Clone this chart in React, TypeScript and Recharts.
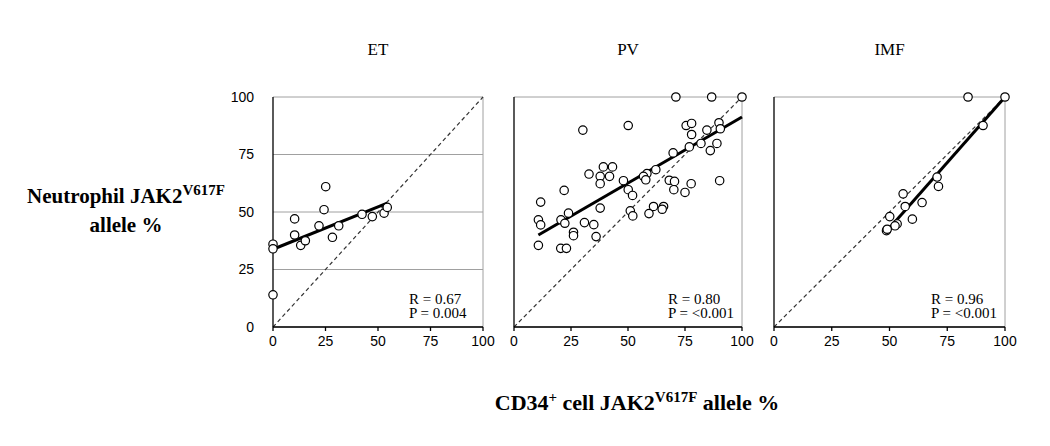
import React from 'react';
import { ScatterChart, Scatter, XAxis, YAxis, CartesianGrid, ReferenceLine } from 'recharts';

// values (CD34+ % vs neutrophil %)
const etCd34 = [0, 0, 0, 10.3, 10.3, 13.2, 15.4, 21.9, 24.3, 25.1, 28.3, 31.3, 42.4, 47.3, 52.9, 54.4];
const etNeut = [36, 34, 14, 47, 40, 35.5, 37.5, 44, 51, 61, 39, 44, 49, 48, 49.5, 52];

const pvCd34 = [71, 86.7, 100, 30.2, 50.1, 75.5, 77.9, 77.9, 84.6, 89.9, 90.5, 82, 86.1, 89, 76.9, 69.8, 90.2, 77.7, 75, 68.1,
  70.4, 70.1, 62.2, 58.3, 56.8, 57.8, 48, 50.1, 52, 39.2, 43.2, 37.8, 41.9, 37.8, 32.9, 22, 11.7, 37.8, 61.2, 65.6,
  65, 51, 52.1, 59.2, 23.9, 20.6, 22.3, 10.7, 11.7, 30.9, 35, 26.1, 26.1, 36, 10.7, 20.5, 23];
const pvNeut = [100, 100, 100, 85.6, 87.6, 87.6, 88.5, 83.7, 85.6, 88.8, 86.2, 79.8, 76.7, 79.8, 78.3, 75.7, 63.6, 62.3, 58.5, 63.8,
  63.3, 59.7, 68.4, 66.7, 65.5, 64, 63.6, 59.7, 57.2, 69.6, 69.6, 65.5, 65.5, 62.3, 66.5, 59.4, 54.3, 51.7, 52.4, 52.4,
  51.2, 50.5, 48.3, 49.3, 49.5, 46.6, 45.1, 46.6, 44.4, 45.4, 44.5, 41.2, 39.7, 39.3, 35.5, 34.2, 34.2];

const imfCd34 = [84, 100, 90.5, 70.6, 71.2, 55.9, 64.1, 56.8, 50.1, 59.9, 53.3, 52.4, 48.7, 49];
const imfNeut = [100, 100, 87.6, 65.2, 61.1, 57.9, 54.1, 52.4, 48, 46.9, 44.8, 44, 41.9, 42.5];

// regression line end points
const etFitX = [0, 54.4];
const etFitY = [33.8, 53.9];
const pvFitX = [10.7, 100];
const pvFitY = [40.0, 91.3];
const imfFitX = [48.7, 100];
const imfFitY = [41.5, 100];

const ticks = [0, 25, 50, 75, 100];

const serif = '"Liberation Serif", "Times New Roman", serif';
const sans = '"Liberation Sans", Arial, sans-serif';
const gridGray = '#a0a0a0';
const axisW = 55;

const toPoints = (xs: number[], ys: number[]) => xs.map((x, i) => ({ x, y: ys[i] }));

const Ring = (props: any) => (
  <circle cx={props.cx} cy={props.cy} r={4.2} fill="#fff" stroke="#000" strokeWidth={1.2} />
);

interface PanelProps {
  title: string;
  xs: number[];
  ys: number[];
  fitX: number[];
  fitY: number[];
  r: string;
  p: string;
  plotLeft: number;
  plotWidth: number;
  showYTicks: boolean;
}

const Panel = ({ title, xs, ys, fitX, fitY, r, p, plotLeft, plotWidth, showYTicks }: PanelProps) => {
  const left = plotLeft - axisW;
  return (
    <>
      <div style={{ position: 'absolute', left: plotLeft, width: plotWidth, top: 40, textAlign: 'center', fontFamily: serif, fontSize: 17 }}>
        {title}
      </div>
      <div style={{ position: 'absolute', left, top: 60 }}>
        <ScatterChart width={plotWidth + axisW + 20} height={330} margin={{ top: 37, right: 20, bottom: 33, left: 0 }}>
          <CartesianGrid vertical={false} stroke={gridGray} />
          <XAxis
            type="number"
            dataKey="x"
            domain={[0, 100]}
            ticks={ticks}
            height={30}
            stroke="#000"
            strokeWidth={1.3}
            tickSize={4}
            tickMargin={5}
            tick={{ fill: '#000', fontSize: 14, fontFamily: sans }}
          />
          <YAxis
            type="number"
            dataKey="y"
            domain={[0, 100]}
            ticks={ticks}
            width={axisW}
            stroke="#000"
            strokeWidth={1.3}
            tickLine={false}
            tickMargin={13}
            tick={showYTicks ? { fill: '#000', fontSize: 14, fontFamily: sans } : false}
          />
          <ReferenceLine x={100} stroke={gridGray} />
          <ReferenceLine
            segment={[{ x: 0, y: 0 }, { x: 100, y: 100 }]}
            stroke="#333"
            strokeWidth={1.2}
            strokeDasharray="4 3"
          />
          <Scatter data={toPoints(xs, ys)} shape={Ring} isAnimationActive={false} />
          <ReferenceLine
            segment={[{ x: fitX[0], y: fitY[0] }, { x: fitX[1], y: fitY[1] }]}
            stroke="#000"
            strokeWidth={3}
          />
        </ScatterChart>
      </div>
      <div style={{ position: 'absolute', left: plotLeft + plotWidth - 74, top: 292, fontFamily: serif, fontSize: 15, lineHeight: '14px' }}>
        <div>{r}</div>
        <div>{p}</div>
      </div>
    </>
  );
};

export default function App() {
  return (
    <div style={{ position: 'absolute', left: 0, top: 0, width: 1050, height: 446, background: '#fff', overflow: 'hidden' }}>
      <div style={{ position: 'absolute', left: 6, top: 176, width: 240, textAlign: 'center', fontFamily: serif, fontWeight: 'bold', fontSize: 21, lineHeight: '29px' }}>
        Neutrophil JAK2<sup style={{ fontSize: 15 }}>V617F</sup>
        <br />
        allele %
      </div>
      <Panel title="ET" xs={etCd34} ys={etNeut} fitX={etFitX} fitY={etFitY} r="R = 0.67" p="P = 0.004" plotLeft={273} plotWidth={210} showYTicks />
      <Panel title="PV" xs={pvCd34} ys={pvNeut} fitX={pvFitX} fitY={pvFitY} r="R = 0.80" p="P = <0.001" plotLeft={514} plotWidth={228} showYTicks={false} />
      <Panel title="IMF" xs={imfCd34} ys={imfNeut} fitX={imfFitX} fitY={imfFitY} r="R = 0.96" p="P = <0.001" plotLeft={774} plotWidth={231} showYTicks={false} />
      <div style={{ position: 'absolute', left: 400, width: 474, top: 389, textAlign: 'center', fontFamily: serif, fontWeight: 'bold', fontSize: 22 }}>
        CD34<sup style={{ fontSize: 15 }}>+</sup> cell JAK2<sup style={{ fontSize: 15 }}>V617F</sup> allele %
      </div>
    </div>
  );
}
